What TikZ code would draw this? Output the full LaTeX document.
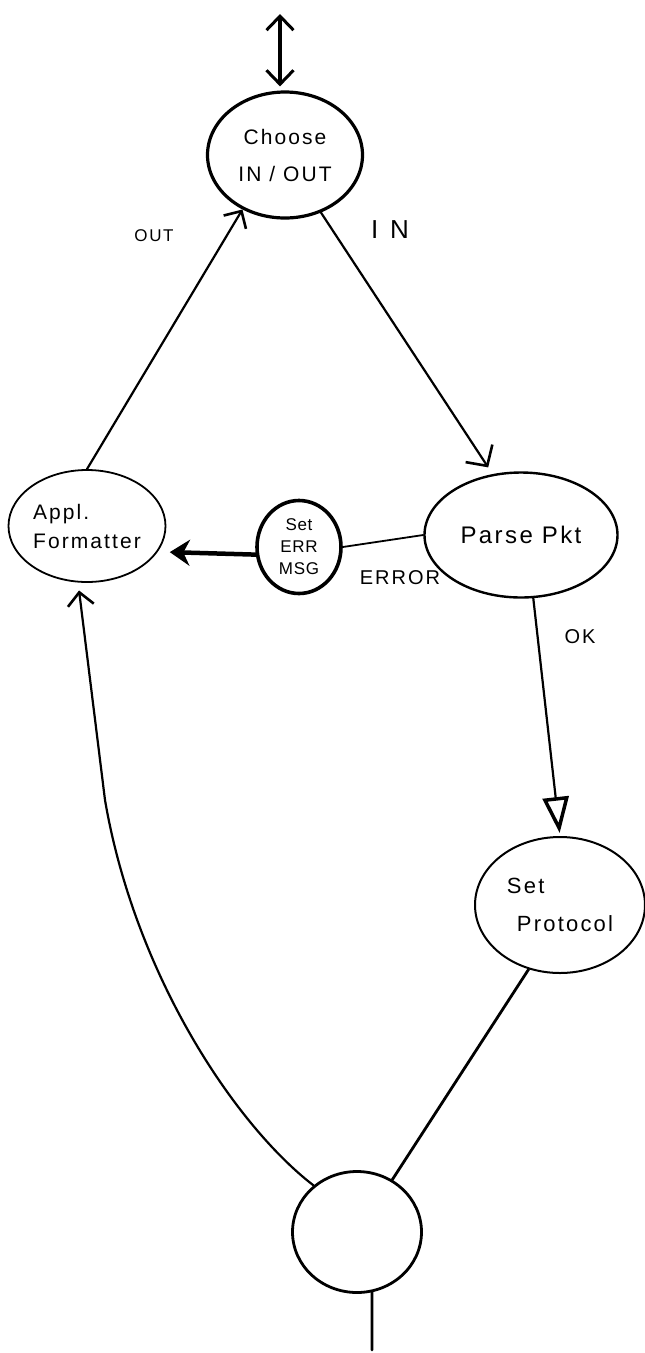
\documentclass[tikz,border=0pt]{standalone}
\usepackage{fontspec}
\newfontfamily\hand[LetterSpace=10]{Liberation Sans}
\usetikzlibrary{shapes.geometric,arrows.meta}

\begin{document}
\begin{tikzpicture}[x=1pt,y=-1pt,
  state/.style={ellipse, draw, inner sep=0pt, align=center},
  edge/.style={line width=2.2pt, line cap=round},
  barb/.style={-{Straight Barb[length=13pt,width=26pt,line width=2.6pt]}},
  lbl/.style={inner sep=0pt}]

% page
\path[use as bounding box, fill=white] (0,0) rectangle (645,1353);

% states
\node[state, line width=3.2pt, minimum width=155pt, minimum height=126pt,
      font=\hand\fontsize{21}{37}\selectfont] (choose) at (285,155) {Choose\\IN / OUT};
\node[state, line width=1.8pt, minimum width=157pt, minimum height=112pt, align=left,
      font=\hand\fontsize{21}{29}\selectfont] (appl) at (87,526) {Appl.\\Formatter};
\node[state, line width=3.6pt, minimum width=84pt, minimum height=93pt,
      font=\hand\addfontfeatures{LetterSpace=4}\fontsize{17}{22}\selectfont] (seterr) at (299,547) {Set\\ERR\\MSG};
\node[state, line width=2.4pt, minimum width=193pt, minimum height=125pt,
      font=\hand\fontsize{24}{24}\selectfont] (parse) at (521,535) {Parse Pkt};
\node[state, line width=2pt, minimum width=170pt, minimum height=136pt, align=left,
      font=\hand\fontsize{22}{38}\selectfont] (proto) at (560,905) {Set\\\hspace*{10pt}Protocol};
\node[state, line width=2.8pt, minimum width=129pt, minimum height=121pt] (bottom) at (357,1232) {};

% free ends
\coordinate (entry) at (280,14);
\coordinate (exit) at (372,1350);

% edge labels
\node[lbl, font=\hand\fontsize{17}{17}\selectfont] (outlbl) at (154,236) {OUT};
\node[lbl, font=\hand\addfontfeatures{LetterSpace=45}\fontsize{26}{26}\selectfont] (inlbl) at (390,230) {IN};
\node[lbl, font=\hand\fontsize{20}{20}\selectfont] (errlbl) at (400,578) {ERROR};
\node[lbl, font=\hand\fontsize{20}{20}\selectfont] (oklbl) at (580,637) {OK};

% connectors
\draw[edge, line width=3.2pt,
      {Straight Barb[length=14pt,width=27pt,line width=3pt]}-{Straight Barb[length=14pt,width=27pt,line width=3pt]},
      shorten >=4pt] (entry) -- (entry |- choose.north);

\draw[edge, barb] (appl.north) -- (choose.232);

\draw[edge, -{Straight Barb[length=15pt,width=32pt,line width=2.6pt]}, shorten >=8pt]
      (choose.302) -- (parse.115);

\draw[edge, line width=1.8pt] (parse.west) -- (seterr.east);

\draw[edge, line width=4.5pt, -{Stealth[length=20pt,width=26pt]}, shorten >=12pt]
      (seterr.190) -- (appl.-20);

\draw[edge, -{Triangle[open,length=36pt,width=26pt,line width=3.5pt]}, shorten >=3pt]
      (parse.281) -- (proto.north);

\draw[edge, line width=2.8pt] (proto.244) -- (bottom.56);

\draw[edge, barb, shorten >=8pt]
      (bottom.133) .. controls (235,1125) and (135,975) .. (105,800) -- (appl.261);

\draw[edge, line width=2.8pt] (bottom.284) -- (exit);

\end{tikzpicture}
\end{document}
